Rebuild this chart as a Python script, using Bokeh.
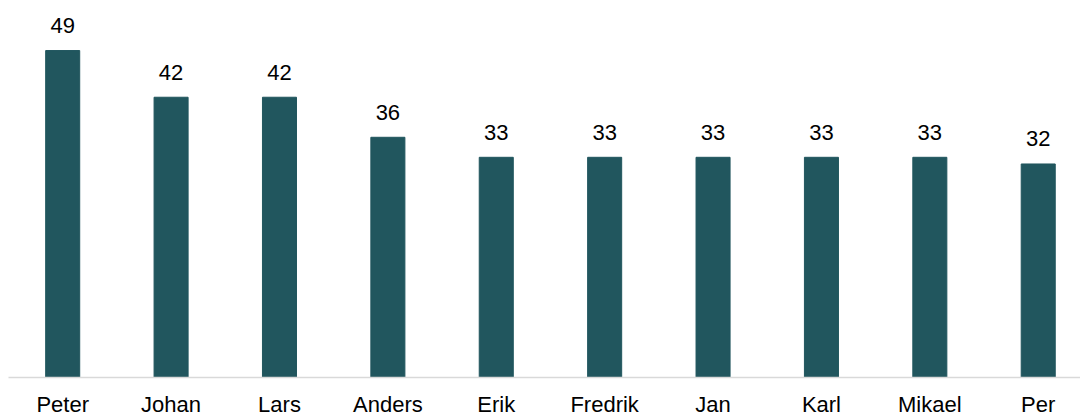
from bokeh.plotting import figure
from bokeh.models import Range1d, ColumnDataSource, FixedTicker
from bokeh.core.properties import value
from bokeh.embed import file_html
from bokeh.resources import INLINE

names = ["Peter", "Johan", "Lars", "Anders", "Erik", "Fredrik", "Jan", "Karl", "Mikael", "Per"]
counts = [49, 42, 42, 36, 33, 33, 33, 33, 33, 32]

xs = list(range(len(names)))
labels = [str(c) for c in counts]
src = ColumnDataSource(dict(x=xs, top=counts, label=labels))

p = figure(width=1080, height=419, output_backend="svg", toolbar_location=None,
           x_range=Range1d(-0.5, 9.39), y_range=Range1d(0, 55.3),
           min_border_left=8, min_border_right=0, min_border_top=8, min_border_bottom=0)

p.vbar(x="x", top="top", width=0.314, bottom=0, source=src,
       fill_color="#21565E", line_color="#21565E")

p.text(x="x", y="top", text="label", source=src, text_align="center",
       text_baseline="alphabetic", y_offset=-25,
       text_font=value("Liberation Sans"), text_font_size="22px", text_color="#000000")

p.yaxis.visible = False
p.xgrid.visible = False
p.ygrid.visible = False
p.outline_line_color = None

ax = p.xaxis[0]
ax.ticker = FixedTicker(ticks=xs)
ax.major_label_overrides = {i: n for i, n in enumerate(names)}
ax.major_tick_line_color = None
ax.minor_tick_line_color = None
ax.major_tick_out = 0
ax.major_tick_in = 0
ax.axis_line_color = "#d9d9d9"
ax.axis_line_width = 1.5
ax.major_label_standoff = 14
ax.major_label_text_font = "Liberation Sans"
ax.major_label_text_font_size = "22px"
ax.major_label_text_color = "#000000"

open("out.html", "w").write(file_html(p, INLINE))
